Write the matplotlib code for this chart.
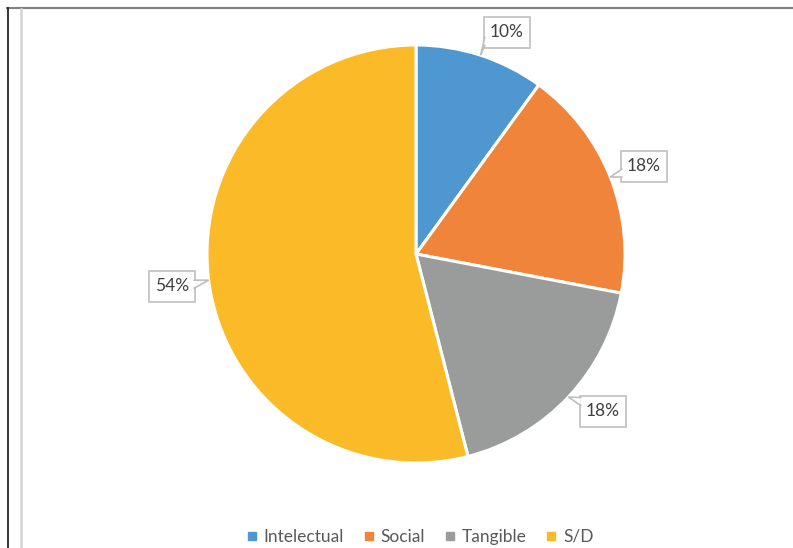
import numpy as np
import matplotlib.pyplot as plt
from matplotlib.patches import Rectangle, Polygon
from matplotlib.lines import Line2D

# data
categorias = ['Intelectual', 'Social', 'Tangible', 'S/D']
valores = [10, 18, 18, 54]
etiquetas = ['10%', '18%', '18%', '54%']
warna = ['#4E97D1', '#F0843A', '#9A9C9C', '#FBBB28']

plt.rcParams['font.family'] = ['Lato', 'DejaVu Sans']

W, H = 793, 548
fig = plt.figure(figsize=(W / 100, H / 100), dpi=100)
ax = fig.add_axes([0, 0, 1, 1])

# pusat pie dalam piksel (y ke atas)
cx, cy, r = 416, H - 254, 209
ax.pie(valores, colors=warna, startangle=90, counterclock=False,
       center=(cx, cy), radius=r,
       wedgeprops=dict(edgecolor='white', linewidth=2.2))
ax.set_xlim(0, W)
ax.set_ylim(0, H)
ax.set_aspect('equal')
ax.axis('off')

# posisi kotak label (tengah kotak)
posisi = [(507, H - 32), (644, H - 166), (603, H - 411), (172, H - 286)]
bw, bh = 46, 31

kum = np.cumsum([0] + valores)
tot = float(sum(valores))
for i, (bx, by) in enumerate(posisi):
    mid = (kum[i] + valores[i] / 2) / tot * 360.0
    ang = np.deg2rad(90 - mid)
    tx, ty = cx + r * np.cos(ang), cy + r * np.sin(ang)
    x0, x1 = bx - bw / 2, bx + bw / 2
    y0, y1 = by - bh / 2, by + bh / 2
    ax.add_patch(Rectangle((x0, y0), bw, bh, facecolor='white',
                           edgecolor='#BFBFBF', linewidth=1.2, zorder=5))
    # titik dasar pointer
    if tx < x0:
        py = np.clip(ty, y0 + 2, y1 - 10)
        b1, b2 = (x0 + 0.8, py), (x0 + 0.8, py + 8)
    elif tx > x1:
        py = np.clip(ty, y0 + 10, y1 - 2)
        b1, b2 = (x1 - 0.8, py), (x1 - 0.8, py - 8)
    elif ty < y0:
        px = np.clip(tx, x0 + 2, x1 - 10)
        b1, b2 = (px, y0 + 0.8), (px + 14, y0 + 0.8)
    else:
        px = np.clip(tx, x0 + 2, x1 - 10)
        b1, b2 = (px, y1 - 0.8), (px + 14, y1 - 0.8)
    ax.add_patch(Polygon([(tx, ty), b1, b2], closed=True, facecolor='white',
                         edgecolor='none', zorder=6))
    ax.plot([b1[0], tx, b2[0]], [b1[1], ty, b2[1]], color='#BFBFBF',
            linewidth=1.2, zorder=7, solid_joinstyle='miter')
    ax.text(bx, by, etiquetas[i], ha='center', va='center', fontsize=12.5,
            color='#404040', zorder=8)

# garis bingkai
fig.add_artist(Line2D([7 / W, 1], [1 - 8 / H, 1 - 8 / H], color='#808080', linewidth=1.5))
fig.add_artist(Line2D([7.5 / W, 7.5 / W], [0, 1 - 8 / H], color='#262626', linewidth=1.3))
fig.add_artist(Line2D([20.5 / W, 20.5 / W], [0, 1 - 9 / H], color='#D4D4D4', linewidth=1.8))

# legenda
handles = [Line2D([], [], marker='s', linestyle='none', markersize=5.5,
                  markerfacecolor=c, markeredgecolor=c) for c in warna]
leg = fig.legend(handles, categorias, loc='center', bbox_to_anchor=(420 / W, 11 / H),
                 ncol=4, frameon=False, fontsize=12.5, handlelength=0.6,
                 handletextpad=0.4, columnspacing=1.1)
for t in leg.get_texts():
    t.set_color('#595959')

plt.savefig('out.png', dpi=100)
